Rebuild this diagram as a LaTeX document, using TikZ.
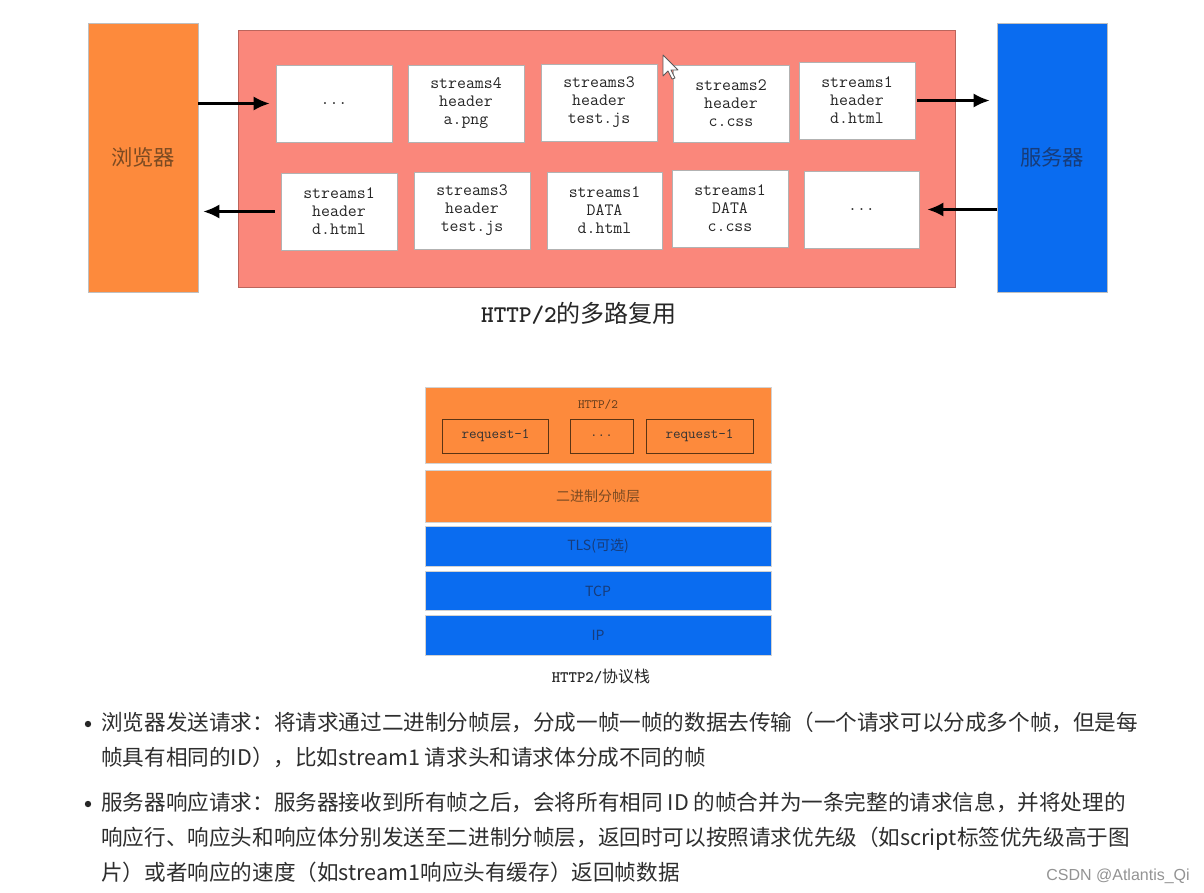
\documentclass[tikz,border=0pt]{standalone}
\usepackage{fontspec}
\newfontfamily\cjk{Noto Sans CJK SC}
\newfontfamily\wmfont{Liberation Sans}
\usetikzlibrary{arrows.meta}
\newcommand\pxu{*0.75pt}
\definecolor{borange}{HTML}{FD8A3C}
\definecolor{salmon}{HTML}{FA877B}
\definecolor{sblue}{HTML}{0A6CF0}
\definecolor{otext}{HTML}{7B4A22}
\definecolor{btext}{HTML}{173C7A}
\definecolor{reqline}{HTML}{5A3414}
\tikzset{
  frame/.style={draw=gray!60, fill=white, minimum width=116\pxu, minimum height=77\pxu,
    inner sep=0pt, align=center, text=black!85,
    font=\ttfamily\fontsize{13}{13.5}\selectfont},
  endbox/.style={draw=gray!50, minimum width=110\pxu, minimum height=269\pxu, inner sep=0pt,
    font=\cjk\fontsize{16}{18}\selectfont},
  arr/.style={line width=2.4\pxu, -{Latex[length=12pt,width=10.5pt]}},
  layer/.style={draw=gray!35, minimum width=346\pxu, inner sep=0pt,
    font=\cjk\fontsize{10.5}{12}\selectfont},
  reqbox/.style={draw=reqline, line width=1\pxu, minimum height=34\pxu, inner sep=0pt,
    text=black!80, font=\ttfamily\fontsize{11}{12}\selectfont},
  bline/.style={anchor=west, inner sep=0pt, text=black!82, text height=0.86em, text depth=0.14em,
    font=\cjk\fontsize{16.2}{20}\selectfont},
}
\begin{document}
\begin{tikzpicture}[x=0.75pt,y=-0.75pt]
\useasboundingbox (0,0) rectangle (1204,893);
\fill[white] (0,0) rectangle (1204,893);

% ---------- top diagram ----------
\node[endbox, fill=borange, text=otext] (browser) at (143,157.5) {浏览器};
\node[endbox, fill=sblue, text=btext] (server) at (1052,157.5) {服务器};
\node[draw=salmon!75!black, line width=0.6pt, fill=salmon, minimum width=717\pxu, minimum height=257\pxu, inner sep=0pt] (mux) at (596.5,158.5) {};

\node[frame] (dotsA)   at (334,103.5) {...};
\node[frame] (sFourA)  at (466,103.5) {streams4\\header\\a.png};
\node[frame] (sThreeA) at (599,102.5) {streams3\\header\\test.js};
\node[frame] (sTwoA)   at (731,103.5) {streams2\\header\\c.css};
\node[frame] (sOneA)   at (857,100.5) {streams1\\header\\d.html};

\node[frame] (sOneB)   at (339,211.5) {streams1\\header\\d.html};
\node[frame] (sThreeB) at (472,210.5) {streams3\\header\\test.js};
\node[frame, minimum width=115\pxu] (dataOne) at (604.5,210.5) {streams1\\DATA\\d.html};
\node[frame] (dataTwo) at (730,208.5) {streams1\\DATA\\c.css};
\node[frame, minimum width=115\pxu] (dotsB)   at (861.5,209.5) {...};

\draw[arr] (browser.east |- dotsA.west) -- ([xshift=-6\pxu]dotsA.west);
\draw[arr] ([xshift=2\pxu]sOneA.east) -- ([xshift=-7\pxu]server.west |- sOneA.east);
\draw[arr] (server.west |- dotsB.east) -- ([xshift=8\pxu]dotsB.east);
\draw[arr] ([xshift=-6\pxu]sOneB.west) -- ([xshift=5\pxu]browser.east |- sOneB.west);

% mouse cursor
\draw[fill=white, draw=gray!70!black, line width=0.6pt, line join=round]
  (663,55) -- (663,76) -- (668,71) -- (672,79) -- (675,78) -- (671,70) -- (678,70) -- cycle;

\node[font=\fontsize{18}{20}\selectfont, text=black!85] (cap1) at (579,313)
  {{\ttfamily\bfseries HTTP/2}{\cjk 的多路复用}};

% ---------- protocol stack ----------
\node[layer, fill=borange, minimum height=76\pxu] (httpl) at (598,425) {};
\node[font=\ttfamily\fontsize{9.5}{11}\selectfont, text=otext!80!black, inner sep=0pt] (httpt) at (598,405) {HTTP/2};
\node[reqbox, minimum width=106\pxu] (reqA) at (495.5,436) {request-1};
\node[reqbox, minimum width=63\pxu]  (reqB) at (601.5,436) {...};
\node[reqbox, minimum width=107\pxu] (reqC) at (699.5,436) {request-1};
\node[layer, fill=borange, minimum height=52\pxu, text=otext] (frm) at (598,496.5) {二进制分帧层};
\node[layer, fill=sblue, minimum height=39.5\pxu, text=btext] (tls) at (598,546.5) {TLS(可选)};
\node[layer, fill=sblue, minimum height=39\pxu, text=btext] (tcp) at (598,591.2) {TCP};
\node[layer, fill=sblue, minimum height=39.5\pxu, text=btext] (ip)  at (598,635.4) {IP};
\node[font=\fontsize{12}{14}\selectfont, text=black!85] (cap2) at (601,676)
  {{\ttfamily\bfseries HTTP2/}{\cjk 协议栈}};

% ---------- bullet text ----------
\fill[black!85] (88,724) circle (3.2);
\fill[black!85] (88,804) circle (3.2);
\node[bline] (l1) at (101,726) {浏览器发送请求：将请求通过二进制分帧层，分成一帧一帧的数据去传输（一个请求可以分成多个帧，但是每};
\node[bline] (l2) at (101,761) {帧具有相同的ID），比如stream1 请求头和请求体分成不同的帧};
\node[bline] (l3) at (101,806) {服务器响应请求：服务器接收到所有帧之后，会将所有相同 ID 的帧合并为一条完整的请求信息，并将处理的};
\node[bline] (l4) at (101,841) {响应行、响应头和响应体分别发送至二进制分帧层，返回时可以按照请求优先级（如script标签优先级高于图};
\node[bline] (l5) at (101,876) {片）或者响应的速度（如stream1响应头有缓存）返回帧数据};

\node[anchor=east, inner sep=0pt, text=gray!85, font=\wmfont\fontsize{12}{14}\selectfont] (wm) at (1190,876) {CSDN @Atlantis\_Qi};
\end{tikzpicture}
\end{document}
